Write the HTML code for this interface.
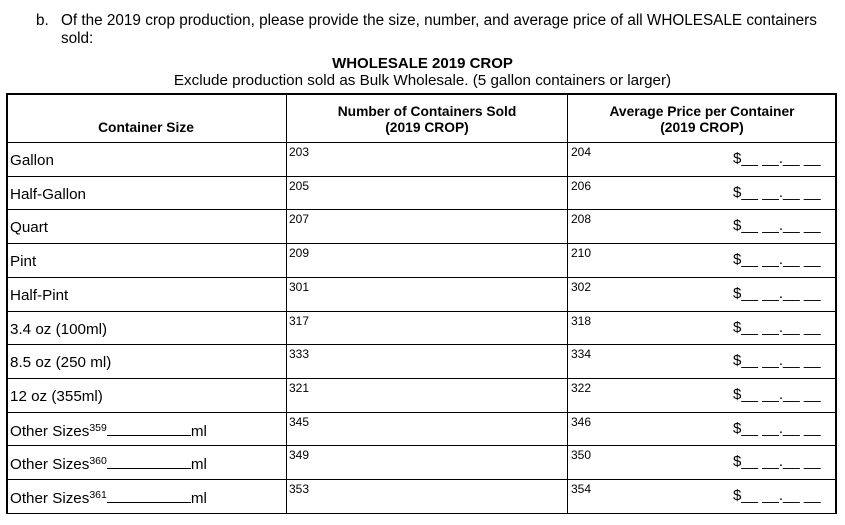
<!DOCTYPE html>
<html><head><style>
body{margin:0;width:845px;height:525px;background:#fff;position:relative;font-family:"Liberation Sans",Arial,sans-serif;color:#000;overflow:hidden}
.a{position:absolute;white-space:nowrap}
.h{position:absolute;background:#000;height:1px}
.v{position:absolute;background:#000;width:1px}
.lab{font-size:15.2px}
.num{font-size:12px}
.b{font-weight:bold;font-size:13.8px;text-align:center}
.d{font-size:15px}
sup{font-size:10.5px;vertical-align:5px;line-height:0}
</style></head><body>
<div class="a" style="left:36px;top:12px;font-size:15.3px">b.</div>
<div class="a" style="left:61px;top:12px;font-size:15.3px;line-height:18px">Of the 2019 crop production, please provide the size, number, and average price of all WHOLESALE containers<br>sold:</div>
<div class="a" style="left:0;width:845px;top:55px;text-align:center;font-weight:bold;font-size:15px">WHOLESALE 2019 CROP</div>
<div class="a" style="left:0;width:845px;top:72px;text-align:center;font-size:15.2px">Exclude production sold as Bulk Wholesale. (5 gallon containers or larger)</div>

<div class="h" style="left:6px;width:831px;top:93px;height:2px"></div>
<div class="v" style="left:6px;top:94px;height:420px;width:2px"></div>
<div class="v" style="left:286px;top:94px;height:420px"></div>
<div class="v" style="left:567px;top:94px;height:420px"></div>
<div class="v" style="left:835px;top:94px;height:420px;width:2px"></div>

<div class="a b" style="left:6px;width:280px;top:120px">Container Size</div>
<div class="a b" style="left:286px;width:282px;top:104px;line-height:16px">Number of Containers Sold<br>(2019 CROP)</div>
<div class="a b" style="left:568px;width:268px;top:104px;line-height:16px">Average Price per Container<br>(2019 CROP)</div>

<div id="rows"></div>
<script>
var u="<span style='display:inline-block;width:84px;border-bottom:1px solid #000;height:13px'></span>ml";
var labels=["Gallon","Half-Gallon","Quart","Pint","Half-Pint","3.4 oz (100ml)","8.5 oz (250 ml)","12 oz (355ml)",
"Other Sizes<sup>359</sup>"+u,"Other Sizes<sup>360</sup>"+u,"Other Sizes<sup>361</sup>"+u];
var n1=["203","205","207","209","301","317","333","321","345","349","353"];
var n2=["204","206","208","210","302","318","334","322","346","350","354"];
var h="",rh=33.7;
for(var i=0;i<11;i++){var y=Math.round(142+i*rh);
h+='<div class="h" style="left:6px;width:831px;top:'+y+'px"></div>';
h+='<div class="a lab" style="left:10px;top:'+(y+10)+'px">'+labels[i]+'</div>';
h+='<div class="a num" style="left:289px;top:'+(y+3)+'px">'+n1[i]+'</div>';
h+='<div class="a num" style="left:571px;top:'+(y+3)+'px">'+n2[i]+'</div>';
h+='<div class="a d" style="left:733px;top:'+(y+8)+'px">$__ __.__ __</div>';}
h+='<div class="h" style="left:6px;width:831px;top:513px"></div>';
document.getElementById("rows").innerHTML=h;
</script>
</body></html>
